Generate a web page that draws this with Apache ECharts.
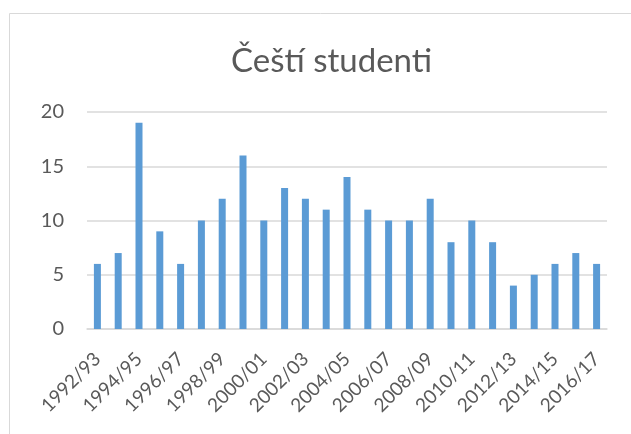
<!DOCTYPE html>
<html><head><meta charset="utf-8">
<script src="https://cdn.jsdelivr.net/npm/echarts@6/dist/echarts.min.js"></script>
<style>html,body{margin:0;padding:0;background:#fff}#c{width:631px;height:434px}</style>
</head><body><div id="c"></div>
<script>
const categories = ['1992/93','1993/94','1994/95','1995/96','1996/97','1997/98','1998/99','1999/00','2000/01','2001/02','2002/03','2003/04','2004/05','2005/06','2006/07','2007/08','2008/09','2009/10','2010/11','2011/12','2012/13','2013/14','2014/15','2015/16','2016/17'];
const values = [6,7,19,9,6,10,12,16,10,13,12,11,14,11,10,10,12,8,10,8,4,5,6,7,6];
const titleText = 'Čeští studenti';
const chart = echarts.init(document.getElementById('c'), null, {renderer:'canvas'});
const font = 'Lato, "Open Sans", sans-serif';
chart.setOption({
  animation:false,
  graphic:[{type:'rect',shape:{x:9.5,y:13.5,width:700,height:500},style:{fill:'none',stroke:'#D9D9D9',lineWidth:1},silent:true}],
  title:{text:titleText,left:226,top:40,textStyle:{fontFamily:font,fontSize:33,fontWeight:'normal',color:'#595959'}},
  grid:{left:87,right:24,top:112,bottom:105,containLabel:false},
  xAxis:{type:'category',data:categories,
    axisLine:{lineStyle:{color:'#D9D9D9',width:1.5}},axisTick:{show:false},
    axisLabel:{interval:1,rotate:45,margin:27,fontFamily:font,fontSize:19,color:'#595959'}},
  yAxis:{type:'value',min:0,max:20,interval:5,
    axisLine:{show:false},axisTick:{show:false},
    splitLine:{lineStyle:{color:'#D9D9D9',width:1.5}},
    axisLabel:{margin:23,fontFamily:font,fontSize:20,color:'#595959'}},
  series:[{type:'bar',data:values,barWidth:7,itemStyle:{color:'#5B9BD5'}}]
});
</script></body></html>
